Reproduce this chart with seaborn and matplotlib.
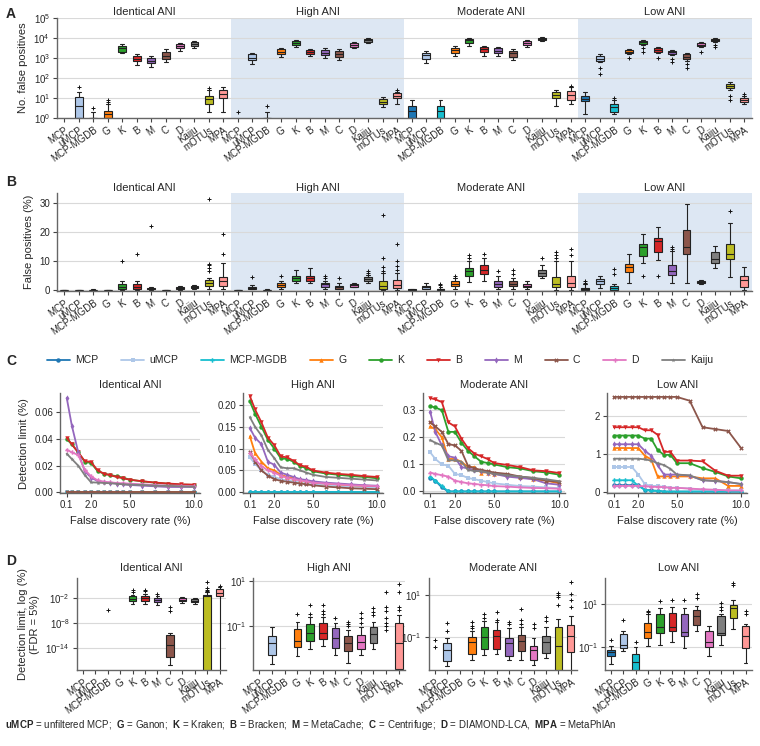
import numpy as np
import pandas as pd
import matplotlib
matplotlib.use('Agg')
import matplotlib.pyplot as plt
import matplotlib.ticker as mticker
import matplotlib.transforms as mtrans
import seaborn as sns

sns.set_theme(style='ticks')
plt.rcParams['font.family'] = ['Liberation Sans', 'DejaVu Sans']
plt.rcParams['mathtext.fontset'] = 'custom'
plt.rcParams['mathtext.rm'] = 'Liberation Sans'
plt.rcParams['mathtext.bf'] = 'Liberation Sans:bold'
plt.rcParams['mathtext.it'] = 'Liberation Sans:italic'

methods = ['MCP', 'uMCP', 'MCP-MGDB', 'G', 'K', 'B', 'M', 'C', 'D', 'Kaiju', 'mOTUs', 'MPA']
colors = ['#1f77b4', '#aec7e8', '#17becf', '#ff7f0e', '#2ca02c', '#d62728',
          '#9467bd', '#8c564b', '#e377c2', '#7f7f7f', '#bcbd22', '#ff9896']
groups = ['Identical ANI', 'High ANI', 'Moderate ANI', 'Low ANI']
pal = dict(zip(methods, colors))

# ---- panel A: number of false positives (lo, q1, med, q3, hi) ----
A_identical = [None, (1, 1, 4, 10.5, 19), (1, 1, 1, 1, 2), (1, 1, 1.5, 2.3, 5),
               (1700, 2000, 3000, 4000, 5000), (450, 700, 900, 1300, 1600),
               (350, 550, 700, 1000, 1200), (600, 900, 1300, 2000, 2800),
               (2300, 3000, 3800, 4800, 5500), (3000, 4000, 5000, 6000, 7000),
               (2, 5, 8.7, 13, 24), (2, 10, 16, 25, 34)]
A_identical_fl = [[], [35], [3], [6, 8], [], [], [], [], [], [], [30], []]
A_high = [None, (500, 800, 1000, 1500, 1800), (1, 1, 1, 1, 2), (1100, 1500, 2000, 2800, 3300),
          (3500, 4500, 5500, 7000, 8000), (1200, 1600, 2000, 2500, 2800),
          (1000, 1400, 1800, 2500, 3000), (800, 1100, 1500, 2100, 2800),
          (3000, 3500, 4500, 5500, 6500), (5500, 6000, 7500, 8500, 9500),
          (3.5, 5, 6.5, 9, 11), (5, 10, 12, 17, 20)]
A_high_fl = [[2], [], [4], [], [], [], [], [], [], [], [], [25]]
A_moderate = [(1, 1, 2.2, 4, 8), (580, 920, 1350, 1860, 2100), (1, 1, 2.2, 4, 8),
              (1300, 1800, 2500, 3300, 4000), (4000, 5500, 7500, 9000, 10000),
              (1300, 2000, 2700, 3500, 4000), (1300, 1700, 2300, 3000, 3500),
              (800, 1100, 1700, 2300, 2700), (3500, 4500, 5500, 7000, 8000),
              (7000, 8000, 9000, 10000, 11000), (4, 10, 14, 20, 25), (5, 8, 14, 22, 35)]
A_moderate_fl = [[], [], [], [], [], [], [], [], [], [], [], [40]]
A_low = [(1.5, 7, 9, 12, 20), (600, 700, 900, 1200, 1500), (1.5, 2, 3.5, 5, 8),
         (1500, 1800, 2000, 2500, 2800), (4500, 5000, 6000, 7000, 7500),
         (1700, 2000, 2500, 3000, 3500), (1400, 1600, 1900, 2300, 2600),
         (700, 900, 1100, 1500, 1700), (3500, 4000, 4500, 5500, 6000),
         (6000, 7000, 8000, 9000, 10000), (25, 30, 40, 50, 60), (5, 6, 8, 10, 12)]
A_low_fl = [[], [300, 150], [10], [1000], [3000, 2000], [1000], [900, 600], [500, 300],
            [2000], [4500, 3500], [12, 8], [15]]

# ---- panel B: false positives (%) ----
B_identical = [(0, 0, 0, 0, 0), (0, 0, 0, 0, 0), (0, 0, 0, 0, 0.2), (0, 0, 0, 0, 0),
               (0, 0.5, 1, 2, 3.2), (0, 0.3, 1, 2, 3.3), (0, 0.2, 0.4, 0.7, 1.2),
               (0, 0, 0, 0, 0), (0, 0.4, 0.7, 1, 1.5), (0.2, 0.6, 1, 1.4, 1.8),
               (0.5, 1.5, 2.5, 3.5, 4.2), (0.5, 1.5, 3, 4.5, 9.5)]
B_identical_fl = [[], [], [], [], [10], [12.5], [22], [], [], [], [6.5, 7.5, 8.5, 9, 31.5], [12.5, 19.5]]
B_high = [(0, 0, 0, 0, 0), (0.2, 0.5, 0.8, 1.2, 1.8), (0, 0, 0, 0, 0.2), (0.3, 1, 1.8, 2.3, 3),
          (2.3, 3, 4, 5, 7), (2.3, 3, 4, 5, 7.7), (0.5, 1.2, 2, 2.5, 3), (0.2, 0.5, 1, 1.5, 2.5),
          (1, 1.2, 1.6, 2, 2.5), (2.5, 3, 3.8, 4.5, 5.2), (0, 0.5, 1.5, 3, 6), (0, 0.8, 1.8, 3.5, 6)]
B_high_fl = [[], [4.5], [], [5], [], [], [4.2, 5], [4], [], [6, 6.5], [6.5, 8, 11, 26], [7, 8.2, 10, 15.9]]
B_moderate = [(0, 0, 0.1, 0.2, 0.4), (0.2, 0.5, 1, 1.5, 2.5), (0, 0, 0.2, 0.5, 1.2),
              (0.5, 1.5, 2.2, 3, 4), (2.8, 5, 6.5, 7.5, 10), (3, 5.5, 7, 8.5, 11),
              (0.5, 1.2, 2, 3, 5), (0.5, 1.5, 2, 3, 4), (0.5, 1, 1.5, 2, 3),
              (4, 5, 6, 7, 8.5), (0, 1, 2, 4.5, 10), (0, 1, 2.5, 5, 10)]
B_moderate_fl = [[], [], [1.6, 2.2], [5], [11, 12], [12.5], [6.5], [5.5, 7], [], [11], [11, 12, 13], [12, 14]]
B_low = [(0, 0, 0.3, 0.6, 2), (0.6, 2, 3, 3.8, 5), (0, 0, 0.8, 1.5, 2), (2.6, 6.2, 8, 9, 12.5),
         (9.5, 11.6, 15, 16, 19.5), (10.5, 13, 17, 18, 21.8), (2.6, 5.3, 6.5, 8.8, 13.5),
         (2.6, 12.3, 15, 20.8, 29.7), (2, 2.3, 2.8, 3.2, 3.5), (7.6, 9.4, 10.8, 13, 15.3),
         (4.4, 10.8, 12.6, 16, 23), (0, 1.2, 3.5, 5, 7.9)]
B_low_fl = [[2.5, 3.2], [], [5.4, 7.3], [], [5], [5], [14.3, 15], [], [], [], [27.3], []]

# ---- panel C: detection limit (%) vs false discovery rate (%) ----
fdr = [0.1, 0.5, 1, 1.5, 2, 2.5, 3, 3.5, 4, 4.5, 5, 6, 7, 8, 9, 10]
line_methods = methods[:10]
C_identical = {
    'MCP': [0.0] * 16, 'uMCP': [0.0] * 16, 'MCP-MGDB': [0.0] * 16, 'G': [0.0] * 16,
    'K': [0.040, 0.036, 0.030, 0.023, 0.022, 0.016, 0.014, 0.013, 0.012, 0.011, 0.0095, 0.0082, 0.0072, 0.0064, 0.0058, 0.0055],
    'B': [0.041, 0.036, 0.030, 0.0235, 0.0228, 0.0165, 0.014, 0.0128, 0.0115, 0.0105, 0.0095, 0.0083, 0.0073, 0.0066, 0.006, 0.0058],
    'M': [0.071, 0.050, 0.030, 0.016, 0.011, 0.0085, 0.0075, 0.007, 0.0065, 0.006, 0.0055, 0.005, 0.0045, 0.004, 0.004, 0.004],
    'C': [0.0] * 16,
    'D': [0.032, 0.030, 0.028, 0.017, 0.012, 0.009, 0.008, 0.0075, 0.007, 0.0068, 0.0065, 0.006, 0.0055, 0.005, 0.005, 0.0045],
    'Kaiju': [0.029, 0.025, 0.020, 0.013, 0.0075, 0.0073, 0.007, 0.0068, 0.0065, 0.006, 0.0058, 0.0055, 0.005, 0.0048, 0.0045, 0.0042],
}
C_high = {
    'MCP': [0.0] * 16,
    'uMCP': [0.08, 0.065, 0.05, 0.04, 0.035, 0.03, 0.027, 0.025, 0.022, 0.02, 0.018, 0.016, 0.014, 0.013, 0.012, 0.011],
    'MCP-MGDB': [0.0] * 16,
    'G': [0.128, 0.09, 0.07, 0.055, 0.05, 0.04, 0.035, 0.032, 0.028, 0.025, 0.022, 0.02, 0.018, 0.016, 0.015, 0.014],
    'K': [0.208, 0.18, 0.15, 0.12, 0.10, 0.078, 0.076, 0.07, 0.06, 0.055, 0.048, 0.043, 0.04, 0.037, 0.035, 0.032],
    'B': [0.22, 0.19, 0.16, 0.125, 0.108, 0.082, 0.08, 0.072, 0.062, 0.058, 0.05, 0.045, 0.042, 0.04, 0.037, 0.035],
    'M': [0.147, 0.125, 0.11, 0.07, 0.063, 0.045, 0.04, 0.035, 0.03, 0.028, 0.025, 0.022, 0.02, 0.018, 0.016, 0.015],
    'C': [0.093, 0.07, 0.05, 0.038, 0.03, 0.026, 0.024, 0.022, 0.02, 0.018, 0.016, 0.013, 0.011, 0.009, 0.008, 0.007],
    'D': [0.09, 0.075, 0.06, 0.05, 0.045, 0.038, 0.033, 0.03, 0.027, 0.025, 0.022, 0.02, 0.018, 0.016, 0.015, 0.014],
    'Kaiju': [0.172, 0.15, 0.13, 0.097, 0.078, 0.057, 0.055, 0.055, 0.05, 0.045, 0.04, 0.035, 0.033, 0.031, 0.029, 0.027],
}
C_moderate = {
    'MCP': [0.05, 0.04, 0.015, 0.0, 0.0, 0.0, 0.0, 0.0, 0.0, 0.0, 0.0, 0.0, 0.0, 0.0, 0.0, 0.0],
    'uMCP': [0.145, 0.12, 0.10, 0.095, 0.065, 0.06, 0.05, 0.045, 0.04, 0.035, 0.03, 0.025, 0.02, 0.018, 0.015, 0.012],
    'MCP-MGDB': [0.055, 0.04, 0.02, 0.0, 0.0, 0.0, 0.0, 0.0, 0.0, 0.0, 0.0, 0.0, 0.0, 0.0, 0.0, 0.0],
    'G': [0.24, 0.23, 0.20, 0.12, 0.12, 0.11, 0.09, 0.09, 0.07, 0.07, 0.065, 0.06, 0.055, 0.045, 0.04, 0.03],
    'K': [0.315, 0.31, 0.30, 0.22, 0.22, 0.18, 0.15, 0.13, 0.11, 0.105, 0.1, 0.09, 0.085, 0.075, 0.07, 0.062],
    'B': [0.345, 0.34, 0.33, 0.255, 0.24, 0.195, 0.16, 0.14, 0.13, 0.12, 0.105, 0.098, 0.09, 0.078, 0.075, 0.068],
    'M': [0.295, 0.22, 0.17, 0.13, 0.125, 0.09, 0.085, 0.08, 0.075, 0.07, 0.065, 0.055, 0.05, 0.045, 0.03, 0.025],
    'C': [0.255, 0.24, 0.22, 0.175, 0.17, 0.15, 0.095, 0.085, 0.08, 0.075, 0.07, 0.065, 0.055, 0.05, 0.04, 0.035],
    'D': [0.07, 0.065, 0.06, 0.055, 0.04, 0.035, 0.03, 0.028, 0.025, 0.023, 0.02, 0.018, 0.015, 0.013, 0.012, 0.01],
    'Kaiju': [0.19, 0.18, 0.17, 0.115, 0.115, 0.11, 0.08, 0.075, 0.075, 0.07, 0.065, 0.06, 0.055, 0.05, 0.045, 0.038],
}
C_low = {
    'MCP': [0.17, 0.17, 0.17, 0.17, 0.17, 0.05, 0.03, 0.02, 0.0, 0.0, 0.0, 0.0, 0.0, 0.0, 0.0, 0.0],
    'uMCP': [0.65, 0.65, 0.65, 0.65, 0.45, 0.2, 0.15, 0.15, 0.12, 0.1, 0.1, 0.08, 0.05, 0.04, 0.03, 0.03],
    'MCP-MGDB': [0.3, 0.3, 0.3, 0.3, 0.15, 0.05, 0.02, 0.02, 0.0, 0.0, 0.0, 0.0, 0.0, 0.0, 0.0, 0.0],
    'G': [1.15, 1.15, 1.15, 1.15, 1.15, 0.95, 0.85, 0.4, 0.4, 0.4, 0.4, 0.4, 0.35, 0.35, 0.15, 0.15],
    'K': [1.48, 1.48, 1.48, 1.48, 1.48, 1.4, 1.4, 1.1, 0.97, 0.97, 0.75, 0.75, 0.62, 0.52, 0.4, 0.35],
    'B': [1.7, 1.7, 1.7, 1.7, 1.7, 1.62, 1.62, 1.5, 1.05, 1.05, 0.82, 0.82, 0.8, 0.55, 0.42, 0.42],
    'M': [1.25, 1.25, 1.25, 1.25, 1.25, 1.08, 0.95, 0.7, 0.45, 0.45, 0.45, 0.42, 0.3, 0.28, 0.25, 0.2],
    'C': [2.5, 2.5, 2.5, 2.5, 2.5, 2.5, 2.5, 2.5, 2.5, 2.5, 2.5, 2.4, 1.7, 1.65, 1.6, 1.15],
    'D': [0.15, 0.15, 0.15, 0.15, 0.15, 0.14, 0.13, 0.12, 0.12, 0.1, 0.1, 0.08, 0.06, 0.05, 0.03, 0.03],
    'Kaiju': [0.87, 0.87, 0.87, 0.87, 0.87, 0.85, 0.82, 0.75, 0.7, 0.6, 0.45, 0.43, 0.3, 0.28, 0.25, 0.2],
}
line_markers = {'MCP': 'o', 'uMCP': 's', 'MCP-MGDB': 'P', 'G': '^', 'K': 'o', 'B': 'v',
                'M': 'd', 'C': 'X', 'D': 'P', 'Kaiju': '*'}

# ---- panel D: detection limit at FDR = 5%, log10 of (%) ----
D_identical = [None, None, None, None,
               (-3.5, -2.8, -2.2, -1.6, -1.2), (-3.5, -2.7, -2.1, -1.5, -1.1),
               (-3.6, -3.0, -2.5, -2.0, -1.6), (-18.1, -16.1, -13.3, -10.9, -10.5),
               (-3.2, -2.8, -2.4, -2.0, -1.7), (-3.4, -2.9, -2.6, -2.2, -1.9),
               (-25, -22, -1.5, -1.3, -0.6), (-25, -1.5, -0.7, 0.1, 0.7)]
D_identical_fl = [[], [], [-4.9], [], [-0.5, -0.1], [-0.4, 0.0], [-1.0], [-5.0, -4.1], [], [],
                  [-0.3, 0.0, 0.5, 1.8], [1.0]]
D_high = [None, (-2.7, -2.29, -1.74, -1.47, -1.03), None, (-2.33, -1.92, -1.65, -1.15, -0.81),
          (-2.04, -1.65, -1.33, -0.92, -0.59), (-1.9, -1.6, -1.33, -0.87, -0.6),
          (-2.29, -1.98, -1.55, -1.1, -0.87), (-2.65, -2.1, -1.77, -1.47, -1.18),
          (-2.3, -2.05, -1.7, -1.4, -1.03), (-2.05, -1.74, -1.36, -1.03, -0.81),
          (-6, -5, -4.5, -4, -3.5), (-3.5, -2.9, -1.76, -0.87, -0.51)]
D_high_fl = [[], [], [], [-0.48], [-0.45, -0.07], [-0.45, -0.35, -0.07], [-0.65],
             [-1.0, -0.9, -0.81], [-0.85, -0.66, -0.44], [-0.5, -0.36, -0.22],
             [-1.18, -1.0, -0.85, -0.65, -0.35, -0.17, 0.52], [-0.3, -0.16, 0.51, 0.87]]
D_moderate = [None, (-2.33, -2.1, -1.6, -1.24, -1.03), None, (-2.07, -1.78, -1.2, -0.97, -0.7),
              (-1.82, -1.55, -1.0, -0.53, -0.25), (-1.78, -1.55, -0.95, -0.66, -0.3),
              (-2.07, -1.85, -1.24, -1.03, -0.55), (-2.07, -1.62, -1.19, -0.87, -0.5),
              (-2.3, -2.07, -1.6, -1.38, -1.03), (-1.94, -1.71, -1.2, -0.95, -0.5),
              (-3, -2.8, -1.4, -0.5, -0.12), (-3, -1.66, -0.95, -0.4, -0.01)]
D_moderate_fl = [[-1.11, -1.47], [-0.68, -0.34], [], [-0.55, -0.45, -0.29], [-0.1, 0.1],
                 [-0.2, 0.18], [-0.37, -0.29], [-0.37, -0.2, 0.32], [-0.56, -0.37],
                 [-0.24, -0.05], [0.5, 0.91, 1.0, 1.07], [0.42, 0.73, 1.04, 1.59]]
D_low = [(-1.81, -1.42, -1.25, -1.14, -0.95), (-1.22, -1.06, -0.91, -0.4, -0.25),
         (-2.5, -2.12, -1.73, -1.34, -1.0), (-0.95, -0.59, -0.33, 0.09, 0.5),
         (-0.91, -0.38, -0.09, 0.53, 0.81), (-0.8, -0.28, -0.06, 0.58, 0.84),
         (-1.06, -0.5, -0.3, 0.53, 0.81), (-0.28, 0.0, 0.41, 0.72, 0.91),
         (-1.44, -1.0, -0.8, -0.28, -0.02), (-0.91, -0.44, -0.38, 0.41, 0.53),
         (-0.17, 0.34, 0.81, 0.92, 1.15), (-1.78, -1.06, -0.5, -0.02, 0.06)]
D_low_fl = [[-0.67], [0.22], [-0.8], [0.6, 0.66], [1.11], [1.15], [1.15], [1.26, 1.47], [],
            [0.73, 0.84, 1.03], [1.86, 1.97], [0.53, 0.66]]

shade = '#dde7f3'
spine_c = '#666666'
grid_c = '#d9d9d9'


def style_axes(ax):
    sns.despine(ax=ax)
    for s in ['left', 'bottom']:
        ax.spines[s].set_color(spine_c)
        ax.spines[s].set_linewidth(1)
    ax.tick_params(labelsize=7, length=3, width=0.8, color='#444444', pad=2)
    ax.yaxis.grid(True, color=grid_c, lw=0.8)
    ax.set_axisbelow(True)


def draw_boxes(ax, box_groups, flier_groups, log=False, width=0.55):
    n = len(methods)
    order = [str(i) for i in range(n * len(box_groups))]
    rows = []
    for g, boxes in enumerate(box_groups):
        for m, stats in enumerate(boxes):
            if stats is None:
                continue
            for v in stats:
                rows.append({'pos': str(g * n + m), 'val': v, 'method': methods[m]})
    df = pd.DataFrame(rows)
    sns.boxplot(data=df, x='pos', y='val', hue='method', order=order, hue_order=methods,
                palette=pal, dodge=False, whis=(0, 100), showfliers=False, width=width,
                linewidth=0.8, linecolor='#222222', log_scale=log, legend=False,
                saturation=1, ax=ax)
    for g, fl in enumerate(flier_groups):
        for m, vals in enumerate(fl):
            if vals:
                ax.plot([g * n + m] * len(vals), vals, '+', color='#111111', ms=3.5,
                        mew=0.7, zorder=5, clip_on=True)
    ax.set_xlim(-0.5, n * len(box_groups) - 0.5)
    ax.set_xticks(range(n * len(box_groups)))
    ax.set_xticklabels(methods * len(box_groups), rotation=35, ha='right',
                       rotation_mode='anchor', fontsize=7)
    ax.set_xlabel('')


fig = plt.figure(figsize=(7.6, 7.46), dpi=100)

# ---------------- A ----------------
axA = fig.add_axes([0.075, 0.842, 0.914, 0.134])
for x0 in (11.5, 35.5):
    axA.axvspan(x0, x0 + 12, color=shade, zorder=0, lw=0)
draw_boxes(axA, [A_identical, A_high, A_moderate, A_low],
           [A_identical_fl, A_high_fl, A_moderate_fl, A_low_fl], log=True)
axA.set_ylim(1, 1e5)
axA.yaxis.set_major_locator(mticker.FixedLocator([1, 10, 100, 1e3, 1e4, 1e5]))
axA.yaxis.set_minor_locator(mticker.NullLocator())
axA.set_ylabel('No. false positives', fontsize=8)
style_axes(axA)

# ---------------- B ----------------
axB = fig.add_axes([0.075, 0.610, 0.914, 0.131])
for x0 in (11.5, 35.5):
    axB.axvspan(x0, x0 + 12, color=shade, zorder=0, lw=0)
draw_boxes(axB, [B_identical, B_high, B_moderate, B_low],
           [B_identical_fl, B_high_fl, B_moderate_fl, B_low_fl])
axB.set_ylim(-0.3, 33.4)
axB.set_yticks([0, 10, 20, 30])
axB.set_ylabel('False positives (%)', fontsize=8)
style_axes(axB)

for ax in (axA, axB):
    tr = mtrans.blended_transform_factory(ax.transData, ax.transAxes)
    for g, name in enumerate(groups):
        ax.text(g * 12 + 5.5, 1.005, name, transform=tr, ha='center', va='bottom', fontsize=8)

# ---------------- C ----------------
c_pos = [[0.079, 0.339, 0.184, 0.134], [0.320, 0.339, 0.184, 0.134],
         [0.557, 0.339, 0.187, 0.134], [0.799, 0.339, 0.184, 0.134]]
c_data = [C_identical, C_high, C_moderate, C_low]
c_ylim = [(-0.0006, 0.0745), (-0.002, 0.227), (-0.006, 0.363), (-0.04, 2.6)]
c_ticks = [[0, 0.02, 0.04, 0.06], [0, 0.05, 0.10, 0.15, 0.20], [0, 0.1, 0.2, 0.3], [0, 1, 2]]
c_fmt = ['%.2f', '%.2f', '%.1f', '%d']
handles = labels = None
for i in range(4):
    ax = fig.add_axes(c_pos[i])
    rows = []
    for m in line_methods:
        for x, v in zip(fdr, c_data[i][m]):
            rows.append({'fdr': x, 'val': v, 'method': m})
    df = pd.DataFrame(rows)
    sns.lineplot(data=df, x='fdr', y='val', hue='method', style='method', hue_order=line_methods,
                 style_order=line_methods, palette=pal, markers=line_markers, dashes=False,
                 lw=1.3, ms=3.2, markeredgewidth=0, ax=ax)
    if i == 0:
        handles, labels = ax.get_legend_handles_labels()
    ax.get_legend().remove()
    ax.set_xlim(-0.42, 10.47)
    ax.set_xticks([0.1, 2, 5, 10])
    ax.set_xticklabels(['0.1', '2.0', '5.0', '10.0'])
    ax.set_ylim(*c_ylim[i])
    ax.set_yticks(c_ticks[i])
    ax.yaxis.set_major_formatter(mticker.FormatStrFormatter(c_fmt[i]))
    ax.set_xlabel('False discovery rate (%)', fontsize=8)
    ax.set_ylabel('Detection limit (%)' if i == 0 else '', fontsize=8)
    ax.set_title(groups[i], fontsize=8, pad=4)
    style_axes(ax)
fig.legend(handles, labels, loc='center', bbox_to_anchor=(0.5, 0.517), ncol=10,
           frameon=False, fontsize=7.5, handlelength=2.2, handletextpad=0.5,
           columnspacing=2.2)

# ---------------- D ----------------
d_pos = [[0.101, 0.102, 0.196, 0.123], [0.333, 0.102, 0.200, 0.123],
         [0.564, 0.102, 0.195, 0.123], [0.796, 0.102, 0.193, 0.123]]
d_boxes = [D_identical, D_high, D_moderate, D_low]
d_fl = [D_identical_fl, D_high_fl, D_moderate_fl, D_low_fl]
d_ylim = [(-19.3, 2.8), (-2.96, 1.13), (-2.52, 1.77), (-2.08, 2.19)]
d_ticks = [[-14, -8, -2], [-1, 1], [-1, 1], [-1, 1]]
for i in range(4):
    ax = fig.add_axes(d_pos[i])
    boxes = [None if b is None else [10.0 ** v for v in b] for b in d_boxes[i]]
    fl = [[10.0 ** v for v in f] for f in d_fl[i]]
    draw_boxes(ax, [boxes], [fl], log=True, width=0.6)
    ax.set_ylim(10.0 ** d_ylim[i][0], 10.0 ** d_ylim[i][1])
    ax.yaxis.set_major_locator(mticker.FixedLocator([10.0 ** t for t in d_ticks[i]]))
    ax.yaxis.set_major_formatter(mticker.LogFormatterSciNotation())
    ax.yaxis.set_minor_locator(mticker.NullLocator())
    ax.set_ylabel('Detection limit, log (%)\n(FDR = 5%)' if i == 0 else '', fontsize=8)
    ax.set_title(groups[i], fontsize=8, pad=5)
    style_axes(ax)

# panel letters
for letter, y in [('A', 0.99), ('B', 0.765), ('C', 0.525), ('D', 0.258)]:
    fig.text(0.008, y, letter, fontsize=10, fontweight='bold', va='top')

fig.text(0.006, 0.028,
         r'$\bf{uMCP}$ = unfiltered MCP;  $\bf{G}$ = Ganon;  $\bf{K}$ = Kraken;  $\bf{B}$ = Bracken;  '
         r'$\bf{M}$ = MetaCache;  $\bf{C}$ = Centrifuge;  $\bf{D}$ = DIAMOND-LCA,  $\bf{MPA}$ = MetaPhlAn',
         fontsize=7, va='center', ha='left')

fig.savefig('out.png', dpi=100)
